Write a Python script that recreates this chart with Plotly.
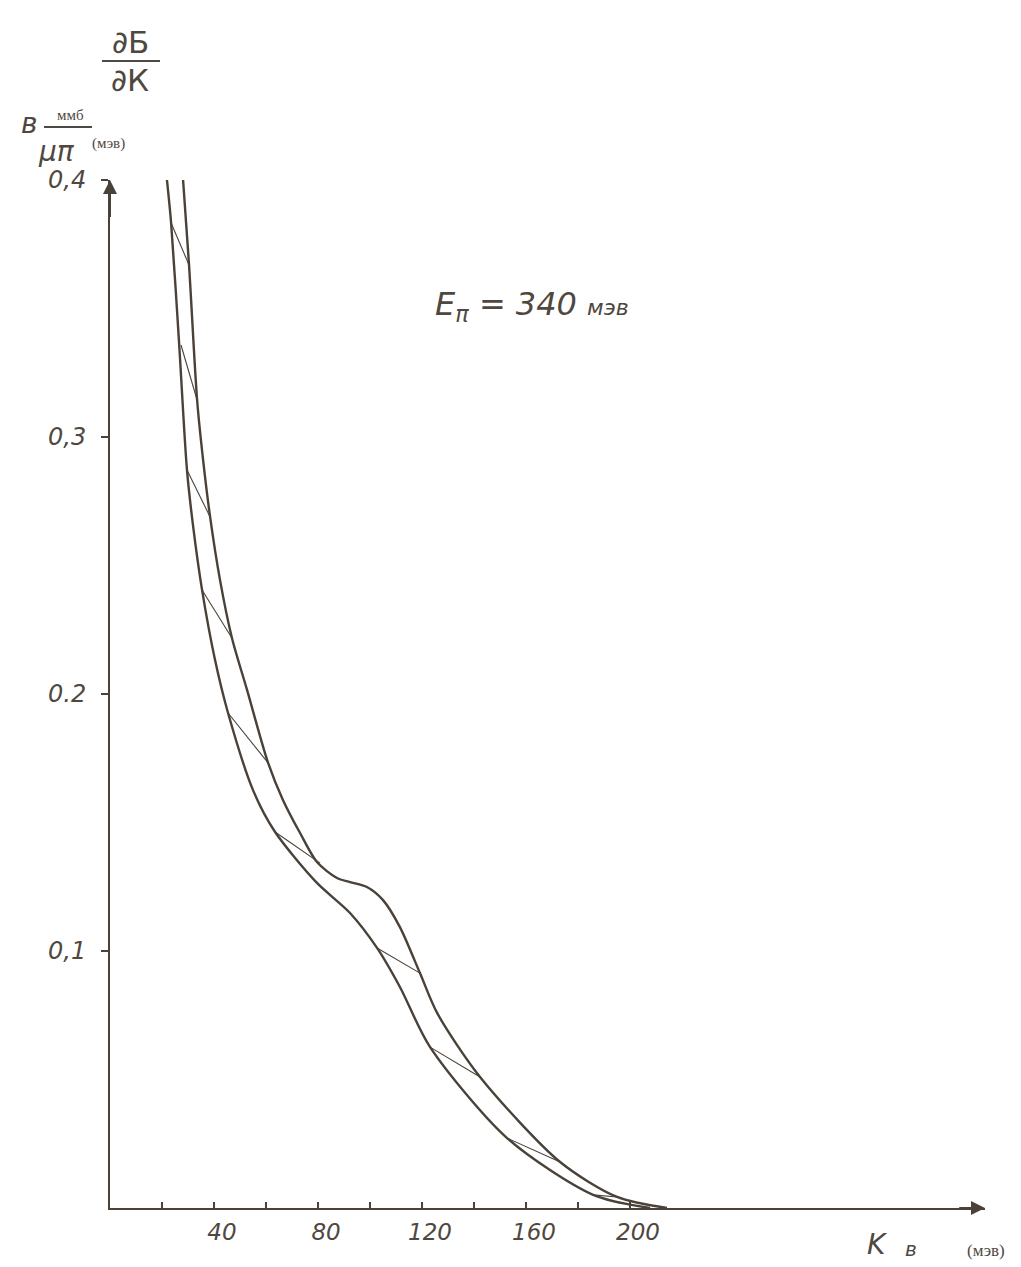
import plotly.graph_objects as go

# ---- data (K in MeV, dσ/dK in mb/(sr·MeV)) ----
lower_k = [21.9, 23.5, 26.5, 29.6, 31.9, 35.4, 40.4, 45.4, 55.0, 63.5, 79.6,
           92.3, 102.7, 111.5, 123.1, 152.7, 185.8, 207.7]
lower_s = [0.400, 0.3833, 0.3377, 0.2872, 0.2658, 0.2405, 0.2132, 0.1926,
           0.1626, 0.1463, 0.1265, 0.1148, 0.1012, 0.0860, 0.0626, 0.0272, 0.0051, 0.0]

upper_k = [28.1, 30.4, 33.5, 35.8, 38.5, 42.3, 46.9, 52.7, 60.8, 66.5, 73.1, 79.6,
           87.3, 92.3, 98.8, 105.0, 111.5, 119.2, 125.8, 142.3, 173.1, 195.0, 214.2]
upper_s = [0.400, 0.3669, 0.3144, 0.2911, 0.2689, 0.2444, 0.2218, 0.2016, 0.1732,
           0.1588, 0.1459, 0.1346, 0.1284, 0.1268, 0.1249, 0.1198, 0.1093, 0.0914,
           0.0759, 0.0510, 0.0179, 0.0043, 0.0]

hatch_k_start = [23.5, 27.3, 29.6, 35.4, 45.4, 63.5, 102.7, 123.1, 152.7, 185.8]
hatch_s_start = [0.3833, 0.3358, 0.2872, 0.2405, 0.1926, 0.1463, 0.1012, 0.0626, 0.0272, 0.0051]
hatch_k_end = [30.4, 33.5, 38.5, 46.9, 60.8, 80.8, 119.2, 142.3, 173.1, 195.0]
hatch_s_end = [0.3669, 0.3144, 0.2689, 0.2218, 0.1732, 0.1342, 0.0914, 0.0510, 0.0179, 0.0043]

x_tickvals = [20, 40, 60, 80, 100, 120, 140, 160, 180, 200]
x_ticktext = ["", "40", "", "80", "", "120", "", "160", "", "200"]
y_tickvals = [0.1, 0.2, 0.3, 0.4]
y_ticktext = ["0,1", "0.2", "0,3", "0,4"]

INK = "#4a4239"
TXT = "#4f4840"

hx, hy = [], []
for a, b, c, d in zip(hatch_k_start, hatch_s_start, hatch_k_end, hatch_s_end):
    hx += [a, c, None]
    hy += [b, d, None]

fig = go.Figure()
fig.add_trace(go.Scatter(x=lower_k, y=lower_s, mode="lines",
                         line=dict(color=INK, width=2.4, shape="spline", smoothing=0.8),
                         hoverinfo="skip"))
fig.add_trace(go.Scatter(x=upper_k, y=upper_s, mode="lines",
                         line=dict(color=INK, width=2.4, shape="spline", smoothing=0.8),
                         hoverinfo="skip"))
fig.add_trace(go.Scatter(x=hx, y=hy, mode="lines",
                         line=dict(color=INK, width=1.1), hoverinfo="skip"))

# axis arrows
fig.add_annotation(x=0, y=0.4, ax=0, ay=0.385, xref="x", yref="y", axref="x", ayref="y",
                   showarrow=True, arrowhead=2, arrowsize=1.4, arrowwidth=2, arrowcolor=INK, text="")
fig.add_annotation(x=336.5, y=0, ax=326, ay=0, xref="x", yref="y", axref="x", ayref="y",
                   showarrow=True, arrowhead=2, arrowsize=1.4, arrowwidth=2, arrowcolor=INK, text="")

# page-pixel positioned texts (converted to paper fractions below)
texts = [
    (130, 42, "∂Б", 31, "DejaVu Sans"),
    (130, 80, "∂К", 31, "DejaVu Sans"),
    (29, 124, "<i>в</i>", 28, "DejaVu Sans"),
    (70, 115, "ммб", 15, "Liberation Serif"),
    (56, 151, "<i>μπ</i>", 28, "DejaVu Sans"),
    (108, 144, "(мэв)", 15, "Liberation Serif"),
    (532, 306, "<i>E<sub>π</sub> = 340 <span style='font-size:22px'>мэв</span></i>", 32, "DejaVu Sans"),
    (877, 1244, "<i>K</i>", 28, "DejaVu Sans"),
    (911, 1249, "<i>в</i>", 20, "DejaVu Sans"),
    (986, 1250, "(мэв)", 17, "Liberation Serif"),
]

PL, PT, PW, PH = 110, 180, 875, 1028   # plot area in page pixels
for px, py, t, s, fam in texts:
    fig.add_annotation(x=(px - PL) / PW, y=(PT + PH - py) / PH, xref="paper", yref="paper",
                       xanchor="center", yanchor="middle", text=t, showarrow=False,
                       font=dict(size=s, color=TXT, family=fam))

def hline(x0, x1, y):
    return dict(type="line", xref="paper", yref="paper",
                x0=(x0 - PL) / PW, x1=(x1 - PL) / PW,
                y0=(PT + PH - y) / PH, y1=(PT + PH - y) / PH,
                line=dict(color=TXT, width=2))

W, H = 1021, 1267
OFF = 8  # default page body margin
fig.update_layout(
    width=W, height=H,
    margin=dict(l=PL - OFF, r=W - (PL - OFF) - PW, t=PT - OFF, b=H - (PT - OFF) - PH),
    paper_bgcolor="white", plot_bgcolor="white",
    showlegend=False,
    shapes=[hline(102, 160, 61), hline(44, 92, 127)],
    xaxis=dict(range=[0, 336.5], showgrid=False, zeroline=False, showline=True,
               linecolor=INK, linewidth=2, ticks="inside", ticklen=6, tickwidth=1.5,
               tickcolor=INK, tickvals=x_tickvals, ticktext=x_ticktext,
               tickfont=dict(size=23, color=TXT, family="DejaVu Sans", style="italic"),
               ticklabelshift=8, ticklabelstandoff=2),
    yaxis=dict(range=[0, 0.4], showgrid=False, zeroline=False, showline=True,
               linecolor=INK, linewidth=2, ticks="outside", ticklen=7, tickwidth=1.5,
               tickcolor=INK, tickvals=y_tickvals, ticktext=y_ticktext,
               tickfont=dict(size=24, color=TXT, family="DejaVu Sans", style="italic"),
               ticklabelstandoff=10),
)

fig.write_html("out.html")
